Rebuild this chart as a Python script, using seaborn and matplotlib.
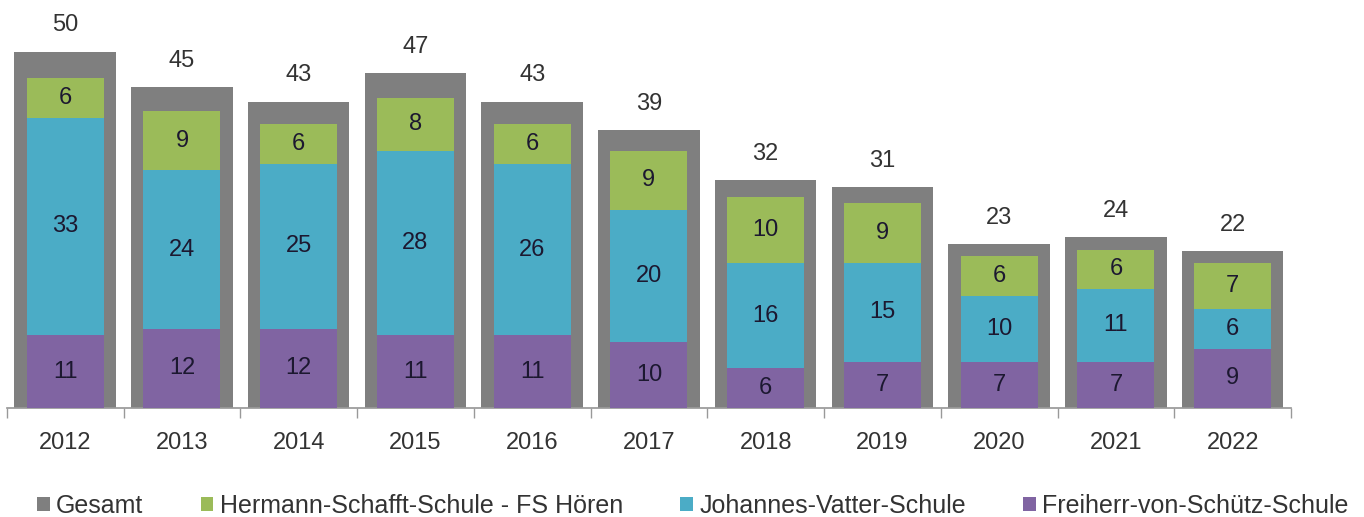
import matplotlib
matplotlib.use('Agg')
import matplotlib.pyplot as plt
import numpy as np
import pandas as pd
import seaborn as sns
from matplotlib.patches import Patch

years = ['2012', '2013', '2014', '2015', '2016', '2017', '2018', '2019', '2020', '2021', '2022']
gesamt = [50, 45, 43, 47, 43, 39, 32, 31, 23, 24, 22]
hermann = [6, 9, 6, 8, 6, 9, 10, 9, 6, 6, 7]
vatter = [33, 24, 25, 28, 26, 20, 16, 15, 10, 11, 6]
freiherr = [11, 12, 12, 11, 11, 10, 6, 7, 7, 7, 9]

series_names = ['Gesamt', 'Hermann-Schafft-Schule - FS Hören',
                'Johannes-Vatter-Schule', 'Freiherr-von-Schütz-Schule']
colors = ['#7f7f7f', '#9bbb59', '#4bacc6', '#8064a2']

sns.set_theme(style='white')
plt.rcParams['font.family'] = ['Liberation Sans', 'DejaVu Sans']

df = pd.DataFrame({'year': years, 'gesamt': gesamt, 'hermann': hermann,
                   'vatter': vatter, 'freiherr': freiherr})
df['top'] = df['freiherr'] + df['vatter'] + df['hermann']
df['mid'] = df['freiherr'] + df['vatter']

fig = plt.figure(figsize=(13.64, 5.17), dpi=100)
ax = fig.add_axes([0.005, 0.211, 0.9415, 0.758])

bar_kw = dict(saturation=1, linewidth=0, edgecolor='none')

# gray total bars on the primary axis
sns.barplot(data=df, x='year', y='gesamt', color=colors[0], width=0.87,
            ax=ax, **bar_kw)
ax.set_ylim(0, 55)
for i, v in enumerate(gesamt):
    ax.annotate(str(v), (i, v), xytext=(0, 11), textcoords='offset points',
                ha='center', va='bottom', fontsize=17, color='#333333')

# stacked school bars on a secondary scale
ax2 = ax.twinx()
sns.barplot(data=df, x='year', y='top', color=colors[1], width=0.66,
            ax=ax2, **bar_kw)
sns.barplot(data=df, x='year', y='mid', color=colors[2], width=0.66,
            ax=ax2, **bar_kw)
sns.barplot(data=df, x='year', y='freiherr', color=colors[3], width=0.66,
            ax=ax2, **bar_kw)
ax2.set_ylim(0, 59.4)

for i in range(len(years)):
    f, v, h = freiherr[i], vatter[i], hermann[i]
    for val, mid in [(f, f / 2), (v, f + v / 2), (h, f + v + h / 2)]:
        ax2.text(i, mid, str(val), ha='center', va='center', fontsize=17,
                 color='#1c1830')

for a in (ax, ax2):
    a.set_xlim(-0.5, len(years) - 0.5)
    a.set_ylabel('')
    a.set_xlabel('')
    a.set_yticks([])
    for s in ['top', 'right', 'left']:
        a.spines[s].set_visible(False)
ax2.spines['bottom'].set_visible(False)

ax.spines['bottom'].set_color('#999999')
ax.set_xticks(np.arange(len(years)))
ax.set_xticklabels(years, fontsize=17, color='#333333')
ax.set_xticks(np.arange(-0.5, len(years), 1), minor=True)
ax.tick_params(axis='x', which='major', length=0, pad=17)
ax.tick_params(axis='x', which='minor', length=7, color='#999999', bottom=True)

handles = [Patch(facecolor=c, edgecolor='none') for c in colors]
fig.legend(handles, series_names, loc='lower center', ncol=4,
           bbox_to_anchor=(0.508, -0.045), frameon=False, fontsize=18,
           handlelength=0.5, handleheight=0.5, handletextpad=0.25,
           columnspacing=2.3, labelcolor='#333333')

fig.savefig('out.png', dpi=100)
